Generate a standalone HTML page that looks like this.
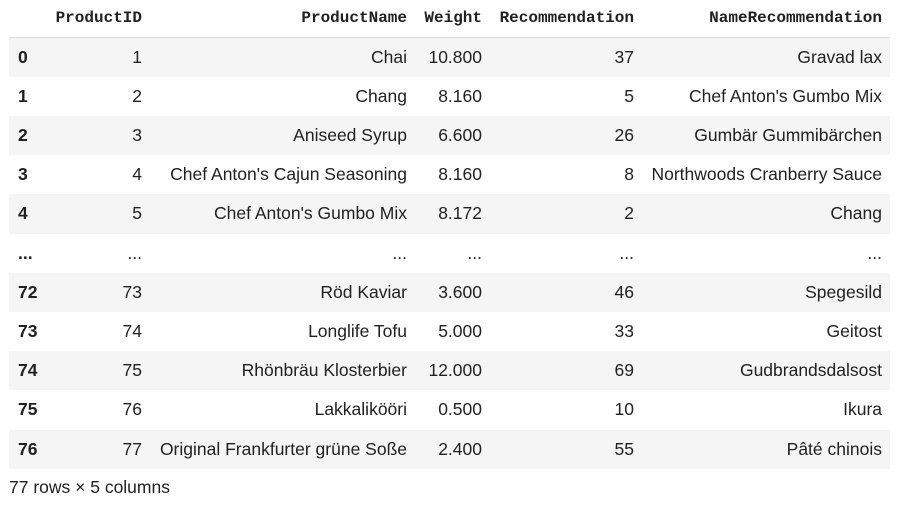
<!DOCTYPE html>
<html><head><meta charset="utf-8"><style>
body{margin:0;width:901px;height:510px;background:#fff;position:relative;font-family:"Liberation Sans",sans-serif;color:#212121;overflow:hidden}
.row{position:absolute;left:9px;width:881px;height:39.3px}
.s{background:#f5f5f5}
.c{position:absolute;font-size:17.5px;line-height:39px;white-space:nowrap}
.h{position:absolute;font-family:"Liberation Mono",monospace;font-weight:bold;font-size:16px;line-height:36px;white-space:nowrap;top:0}
.r{text-align:right}
</style></head><body>
<div>
<div style="position:absolute;left:9px;top:0;width:881px;height:37px;border-bottom:1px solid #ddd">
<span class="h" style="right:748px">ProductID</span>
<span class="h" style="right:483px">ProductName</span>
<span class="h" style="right:408px">Weight</span>
<span class="h" style="right:256px">Recommendation</span>
<span class="h" style="right:8px">NameRecommendation</span>
</div>
<div id="body"></div>
</div>
<div style="position:absolute;left:9px;top:477px;font-size:17.5px;line-height:20px">77 rows × 5 columns</div>
<script>
const idx=['0','1','2','3','4','...','72','73','74','75','76'];
const pid=['1','2','3','4','5','...','73','74','75','76','77'];
const pname=['Chai','Chang','Aniseed Syrup',"Chef Anton's Cajun Seasoning","Chef Anton's Gumbo Mix",'...','Röd Kaviar','Longlife Tofu','Rhönbräu Klosterbier','Lakkalikööri','Original Frankfurter grüne Soße'];
const weight=['10.800','8.160','6.600','8.160','8.172','...','3.600','5.000','12.000','0.500','2.400'];
const rec=['37','5','26','8','2','...','46','33','69','10','55'];
const nrec=['Gravad lax',"Chef Anton's Gumbo Mix",'Gumbär Gummibärchen','Northwoods Cranberry Sauce','Chang','...','Spegesild','Geitost','Gudbrandsdalsost','Ikura','Pâté chinois'];
const body=document.getElementById('body');
const cols=[[pid,748,'cell-productid'],[pname,483,'cell-productname'],[weight,408,'cell-weight'],[rec,256,'cell-recommendation'],[nrec,8,'cell-namerecommendation']];
idx.forEach((v,i)=>{
 const r=document.createElement('div');
 r.className='row'+(i%2==0?' s':'');
 r.style.top=(37.5+i*39.2)+'px';
 
 
 const ix=document.createElement('span');
 ix.className='c';ix.style.left='9px';ix.style.fontWeight='bold';ix.textContent=v;
 
 
 r.appendChild(ix);
 cols.forEach(([arr,right,name])=>{
  const c=document.createElement('span');
  c.className='c r';c.style.right=right+'px';c.textContent=arr[i];
  
  
  r.appendChild(c);
 });
 body.appendChild(r);
});
</script>
</body></html>
